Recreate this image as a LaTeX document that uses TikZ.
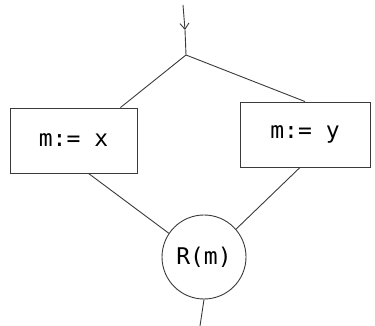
\documentclass[tikz,border=0pt]{standalone}
\usepackage{fontspec}
\setmonofont{DejaVu Sans Mono}
\usetikzlibrary{positioning,calc,arrows.meta}
\definecolor{inkgray}{HTML}{3A3A3A}

\begin{document}
\begin{tikzpicture}[x=1pt,y=1pt]
\useasboundingbox (0,0) rectangle (375,326);
\tikzset{
  assignbox/.style={draw=inkgray, line width=0.9pt, minimum width=127pt, minimum height=65pt, inner sep=0pt,
        font=\ttfamily\fontsize{23}{27}\selectfont},
  flowline/.style={draw=inkgray, line width=0.9pt},
}

\coordinate (start) at (183,321);
\coordinate (tip) at (185,296);
\coordinate (fork) at (186,271);
\node[assignbox] (leftbox) at (73.5,185.5) {m:=~x};
\node[assignbox, minimum width=130pt] (rightbox) at (305,191.5) {m:=~y};
\node[circle, draw=inkgray, line width=0.9pt, minimum size=84pt, inner sep=0pt,
      font=\ttfamily\fontsize{23}{27}\selectfont] (rm) at (204,69) {R(m)};
\coordinate (out) at (200,0);
\draw[flowline, -{Straight Barb[length=6pt,width=9pt]}] (start) -- (tip);
\draw[flowline] (tip) -- (fork);
\draw[flowline] (fork) -- ([xshift=-17pt]leftbox.north east);
\draw[flowline] (fork) -- (rightbox.north);
\draw[flowline] ([xshift=15pt]leftbox.south) -- (rm.146);
\draw[flowline] ([xshift=-5pt]rightbox.south) -- (rm.41);
\draw[flowline] (rm.south) -- (out);
\end{tikzpicture}
\end{document}
